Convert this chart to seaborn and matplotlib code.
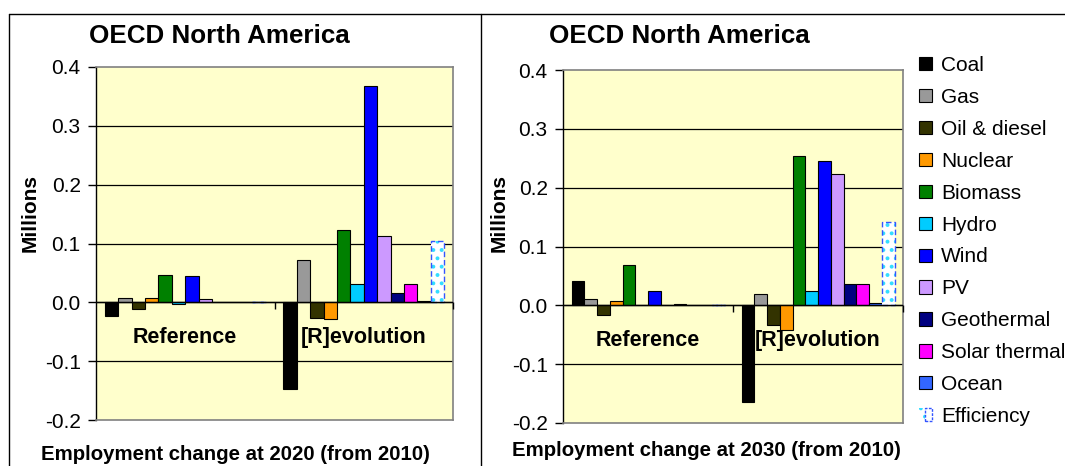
import matplotlib
matplotlib.use("Agg")
import matplotlib.pyplot as plt
from matplotlib import ticker
from matplotlib.patches import Patch, Rectangle
from matplotlib.lines import Line2D
from matplotlib.legend_handler import HandlerTuple
import numpy as np
import pandas as pd
import seaborn as sns

TECHS = ["Coal", "Gas", "Oil & diesel", "Nuclear", "Biomass", "Hydro", "Wind",
         "PV", "Geothermal", "Solar thermal", "Ocean", "Efficiency"]
COLORS = ["#000000", "#999999", "#333300", "#FF9900", "#008000", "#00CCFF",
          "#0000FF", "#CC99FF", "#000080", "#FF00FF", "#3366FF", "#FFFFFF"]
SCENARIOS = ["Reference", "[R]evolution"]

# employment change, millions
ref_2020 = [-0.024, 0.007, -0.012, 0.007, 0.046, -0.003, 0.045, 0.005, 0.0, 0.0, 0.0, 0.0]
rev_2020 = [-0.148, 0.072, -0.026, -0.029, 0.123, 0.032, 0.367, 0.113, 0.016, 0.032, 0.003, 0.104]
ref_2030 = [0.041, 0.010, -0.017, 0.007, 0.069, 0.0, 0.024, 0.0, 0.003, 0.0, 0.0, 0.0]
rev_2030 = [-0.165, 0.020, -0.033, -0.042, 0.254, 0.025, 0.245, 0.224, 0.037, 0.037, 0.004, 0.141]

YTICKS = [-0.2, -0.1, 0.0, 0.1, 0.2, 0.3, 0.4]
TITLE = "OECD North America"
XLABELS = ["Employment change at 2020 (from 2010)", "Employment change at 2030 (from 2010)"]

sns.set_style("white")
plt.rcParams["font.family"] = ["Liberation Sans", "DejaVu Sans"]
plt.rcParams["axes.unicode_minus"] = False
plt.rcParams["hatch.linewidth"] = 1.6
for k in ["text.color", "axes.labelcolor", "xtick.color", "ytick.color"]:
    plt.rcParams[k] = "black"

EFF_DOT = "#33DDFF"
EFF_EDGE = "#3355FF"


def to_long(ref, rev):
    return pd.DataFrame({"scenario": np.repeat(SCENARIOS, len(TECHS)),
                         "tech": TECHS * 2,
                         "value": ref + rev})


def draw_panel(ax, df):
    ax.set_facecolor("#FFFFCC")
    for y in YTICKS[1:-1]:
        ax.axhline(y, color="black", lw=0.9, zorder=0.5)

    sns.barplot(data=df, x="scenario", y="value", hue="tech", hue_order=TECHS,
                palette=COLORS, saturation=1, width=0.9, gap=0, edgecolor="black",
                linewidth=0.8, legend=False, ax=ax, zorder=2)

    # efficiency bars: dotted fill with dashed blue outline
    for bar in ax.containers[-1]:
        bar.set_facecolor("white")
        bar.set_edgecolor(EFF_DOT)
        bar.set_hatch("..")
        bar.set_linewidth(0)
        ax.add_patch(Rectangle(bar.get_xy(), bar.get_width(), bar.get_height(),
                               fill=False, edgecolor=EFF_EDGE, ls=(0, (4, 2)),
                               lw=1.0, zorder=3))

    ax.axhline(0, color="black", lw=1.0, zorder=4)
    bounds = np.arange(len(SCENARIOS) + 1) - 0.5
    ax.vlines(bounds[1:], -0.012, 0, color="black", lw=1.0, zorder=4, clip_on=False)

    ax.set_xlim(-0.5, len(SCENARIOS) - 0.5)
    ax.set_ylim(YTICKS[0], YTICKS[-1])
    ax.set_yticks(YTICKS)
    ax.yaxis.set_major_formatter(ticker.FormatStrFormatter("%.1f"))
    ax.tick_params(axis="y", direction="out", length=6, width=1, pad=5,
                   labelsize=15, left=True)
    ax.set_xticks([])
    ax.set_xlabel("")
    ax.set_ylabel("")

    for s in ["top", "right", "bottom"]:
        ax.spines[s].set_color("#808080")
        ax.spines[s].set_linewidth(1.2)
    ax.spines["left"].set_color("black")
    ax.spines["left"].set_linewidth(1.0)

    for i, name in enumerate(SCENARIOS):
        ax.text(i, -0.06, name, ha="center", va="center",
                fontsize=15.5, fontweight="bold", zorder=5)


W, H = 1065, 466
fig = plt.figure(figsize=(W / 100, H / 100), dpi=100)
fig.patch.set_facecolor("white")

ax1 = fig.add_axes([96 / W, 1 - 420 / H, 357 / W, 353 / H])
ax2 = fig.add_axes([563 / W, 1 - 423 / H, 340 / W, 353 / H])

draw_panel(ax1, to_long(ref_2020, rev_2020))
draw_panel(ax2, to_long(ref_2030, rev_2030))

# titles, axis labels
for xc, xl_x, xl_y, yl_x, lab in [(219, 235, 455, 30, XLABELS[0]),
                                   (679, 706, 451, 499, XLABELS[1])]:
    fig.text(xc / W, 1 - 36 / H, TITLE, ha="center", va="center",
             fontsize=18.7, fontweight="bold")
    fig.text(xl_x / W, 1 - xl_y / H, lab, ha="center", va="center",
             fontsize=14.7, fontweight="bold")
    fig.text(yl_x / W, 1 - 213 / H, "Millions", ha="center", va="center",
             rotation=90, fontsize=15, fontweight="bold")

# chart frame lines
frame = dict(color="black", lw=1.0, transform=fig.transFigure)
fig.add_artist(Line2D([9 / W, 1], [1 - 13.5 / H] * 2, **frame))
fig.add_artist(Line2D([9 / W] * 2, [0, 1 - 13.5 / H], **frame))
fig.add_artist(Line2D([481 / W] * 2, [0, 1 - 13.5 / H], **frame))

# legend
handles = []
for t, c in zip(TECHS, COLORS):
    if t == "Efficiency":
        dots = Patch(facecolor="white", edgecolor=EFF_DOT, hatch="..", lw=0)
        edge = Patch(facecolor="none", edgecolor=EFF_EDGE, ls=(0, (2, 1)), lw=1)
        handles.append((dots, edge))
    else:
        handles.append(Patch(facecolor=c, edgecolor="black", lw=0.8))
fig.legend(handles, TECHS, loc="upper left", bbox_to_anchor=(919 / W, 1 - 56 / H),
           frameon=False, fontsize=15, handlelength=0.6, handleheight=0.6,
           handletextpad=0.45, labelspacing=0.62, borderpad=0, borderaxespad=0,
           handler_map={tuple: HandlerTuple(ndivide=None)})

fig.savefig("out.png", dpi=100)
